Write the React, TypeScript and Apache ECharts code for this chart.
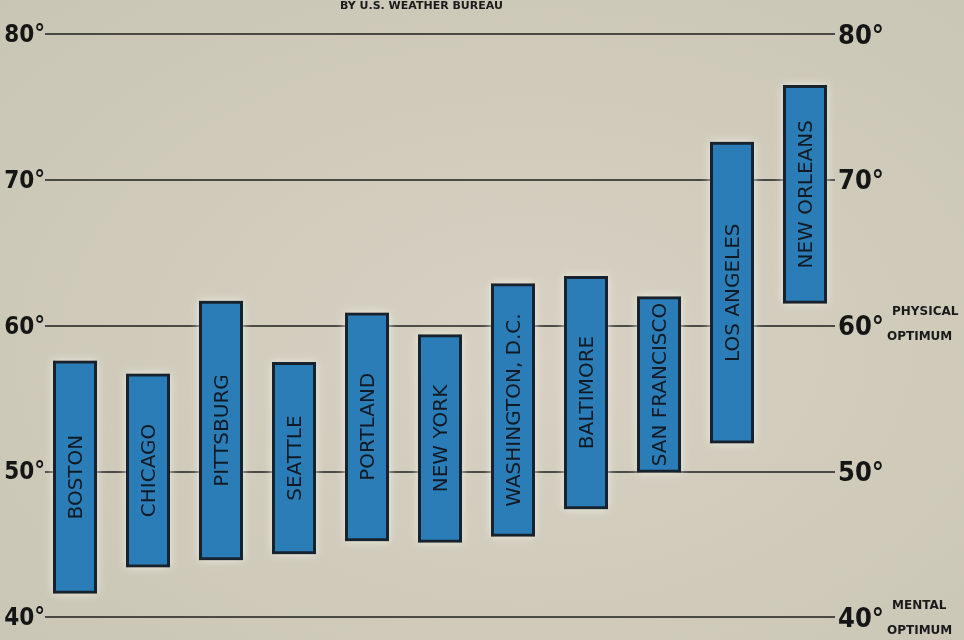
import React, { useEffect, useRef } from "react";
import * as echarts from "echarts";

const cities = [
  "BOSTON",
  "CHICAGO",
  "PITTSBURG",
  "SEATTLE",
  "PORTLAND",
  "NEW YORK",
  "WASHINGTON, D.C.",
  "BALTIMORE",
  "SAN FRANCISCO",
  "LOS ANGELES",
  "NEW ORLEANS",
];
const lows = [41.6, 43.4, 43.9, 44.3, 45.2, 45.1, 45.5, 47.4, 49.9, 51.9, 61.5];
const highs = [57.6, 56.7, 61.7, 57.5, 60.9, 59.4, 62.9, 63.4, 62.0, 72.6, 76.5];
const yTicks = [40, 50, 60, 70, 80];
const titleText = "BY U.S. WEATHER BUREAU";
const notes = { 60: ["PHYSICAL", "OPTIMUM"], 40: ["MENTAL", "OPTIMUM"] } as Record<number, string[]>;

export default function App() {
  const ref = useRef<HTMLDivElement>(null);
  useEffect(() => {
    document.body.style.margin = "0";
    document.body.style.background = "#d0cbbb";
    const chart = echarts.init(ref.current!, null, { renderer: "svg" });
    const ranges = highs.map((h, i) => +(h - lows[i]).toFixed(2));
    const labelFont = "'DejaVu Sans', 'Noto Sans', sans-serif";
    const numFont = "'DejaVu Sans Condensed', 'DejaVu Sans', sans-serif";
    const noteTexts: any[] = [];
    const noteY: Record<number, number> = { 60: 313, 40: 607 };
    Object.keys(notes).forEach((k) => {
      const v = Number(k);
      const [a, b] = notes[v];
      noteTexts.push({
        type: "text",
        left: 892,
        top: noteY[v] - 8,
        style: { text: a, fontSize: 12, fontWeight: "bold", fill: "#1a1a1a", fontFamily: labelFont },
      });
      noteTexts.push({
        type: "text",
        left: 887,
        top: noteY[v] + 17,
        style: { text: b, fontSize: 12, fontWeight: "bold", fill: "#1a1a1a", fontFamily: labelFont },
      });
    });
    chart.setOption({
      animation: false,
      backgroundColor: {
        type: "radial",
        x: 0.55,
        y: 0.55,
        r: 0.8,
        colorStops: [
          { offset: 0, color: "#d6d1c2" },
          { offset: 1, color: "#c9c5b4" },
        ],
      },
      graphic: [
        {
          type: "text",
          left: 340,
          top: 0,
          style: { text: titleText, fontSize: 11, fontWeight: "bold", fill: "#1a1a1a", fontFamily: labelFont },
        },
        ...noteTexts,
      ],
      grid: [
        { left: 45, right: 129, top: 34, bottom: 23 },
        { left: 38.5, right: 122.5, top: 34, bottom: 23 },
      ],
      xAxis: [
        { type: "category", gridIndex: 0, data: cities, show: false },
        { type: "category", gridIndex: 1, data: cities, show: false },
      ],
      yAxis: [
        {
          type: "value",
          gridIndex: 0,
          position: "left",
          min: 40,
          max: 80,
          interval: 10,
          axisLine: { show: false },
          axisTick: { show: false },
          axisLabel: {
            margin: 0,
            formatter: (v: number) => (yTicks.includes(v) ? v + "°" : ""),
            fontSize: 24,
            fontWeight: "bold",
            color: "#151515",
            fontFamily: numFont,
            padding: [0, 0, 8, 0],
          },
          splitLine: { show: true, lineStyle: { color: "#1e1e1e", width: 1.6 } },
        },
        {
          type: "value",
          gridIndex: 0,
          position: "right",
          min: 40,
          max: 80,
          interval: 10,
          axisLine: { show: false },
          axisTick: { show: false },
          axisLabel: {
            margin: 3,
            formatter: (v: number) => (yTicks.includes(v) ? v + "°" : ""),
            fontSize: 27,
            fontWeight: "bold",
            color: "#151515",
            fontFamily: numFont,
            padding: [0, 0, 6, 0],
          },
          splitLine: { show: false },
        },
        {
          type: "value",
          gridIndex: 1,
          min: 40,
          max: 80,
          interval: 10,
          show: false,
          splitLine: { show: false },
        },
      ],
      series: [
        {
          type: "bar",
          xAxisIndex: 1,
          yAxisIndex: 2,
          stack: "r",
          data: lows,
          barWidth: 44,
          itemStyle: { color: "transparent", borderWidth: 0 },
          silent: true,
        },
        {
          type: "bar",
          xAxisIndex: 1,
          yAxisIndex: 2,
          stack: "r",
          data: ranges,
          barWidth: 44,
          itemStyle: {
            color: "#2b7db6",
            borderColor: "#16222e",
            borderWidth: 3,
            shadowColor: "rgba(240,238,228,0.9)",
            shadowBlur: 10,
          },
          label: {
            show: true,
            position: "inside",
            rotate: 90,
            formatter: (p: any) => cities[p.dataIndex],
            color: "#111a24",
            fontSize: 20,
            fontFamily: labelFont,
          },
        },
      ],
    });
    return () => chart.dispose();
  }, []);
  return (
    <div
      ref={ref}
      style={{ position: "fixed", left: 0, top: 0, width: 964, height: 640 }}
    />
  );
}
